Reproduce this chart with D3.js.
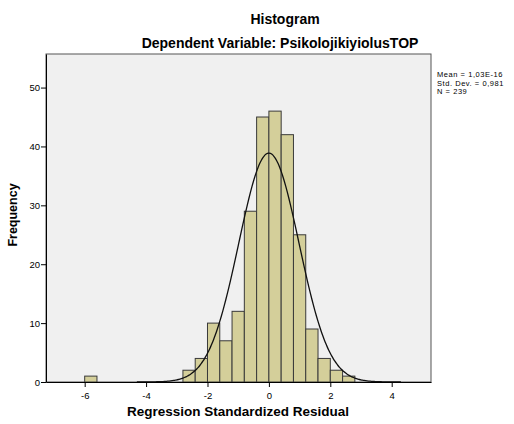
<!DOCTYPE html>
<html>
<head>
<meta charset="utf-8">
<script src="https://cdn.jsdelivr.net/npm/d3@7"></script>
<style>
  body { margin: 0; background: #fff; }
  text { font-family: "Liberation Sans", Arial, sans-serif; }
</style>
</head>
<body>
<svg id="chart" width="514" height="424"></svg>
<script>
// Bin lower edges (width 0.4) and their counts
const binStarts = [-6.0, -2.8, -2.4, -2.0, -1.6, -1.2, -0.8, -0.4, 0.0, 0.4, 0.8, 1.2, 1.6, 2.0, 2.4];
const counts    = [1, 2, 4, 10, 7, 12, 29, 45, 46, 42, 25, 9, 4, 2, 1];
const binWidth = 0.4;
const xTicks = [-6, -4, -2, 0, 2, 4];
const yTicks = [0, 10, 20, 30, 40, 50];
const statsLines = ["Mean = 1,03E-16", "Std. Dev. = 0,981", "N = 239"];
const mean = 0, sd = 0.981, n = 239;

const svg = d3.select("#chart");
const box = { left: 46, right: 431, top: 54, bottom: 382 };

const x = d3.scaleLinear().domain([-7.26, 5.28]).range([box.left, box.right]);
const y = d3.scaleLinear().domain([0, 55.7]).range([box.bottom, box.top]);

// plot background
svg.append("rect")
  .attr("x", box.left).attr("y", box.top)
  .attr("width", box.right - box.left).attr("height", box.bottom - box.top)
  .attr("fill", "#f0f0f0").attr("stroke", "#555").attr("stroke-width", 1);

// bars
const bins = binStarts.map((s, i) => ({ x0: s, x1: s + binWidth, count: counts[i] }));
svg.append("g").selectAll("rect")
  .data(bins)
  .join("rect")
  .attr("x", d => x(d.x0))
  .attr("y", d => y(d.count))
  .attr("width", d => x(d.x1) - x(d.x0))
  .attr("height", d => y(0) - y(d.count))
  .attr("fill", "#d4cf9a")
  .attr("stroke", "#3a3a3a")
  .attr("stroke-width", 1);

// normal curve from the stated mean / sd / N
const pts = d3.range(-4.3, 4.31, 0.05).map(v => ({
  v: v,
  f: n * binWidth * Math.exp(-0.5 * ((v - mean) / sd) ** 2) / (sd * Math.sqrt(2 * Math.PI))
}));
svg.append("path")
  .datum(pts)
  .attr("fill", "none")
  .attr("stroke", "#111")
  .attr("stroke-width", 1.3)
  .attr("d", d3.line().x(d => x(d.v)).y(d => y(d.f)).curve(d3.curveBasis));

// axes
const xAxis = svg.append("g")
  .attr("transform", `translate(0,${box.bottom})`)
  .call(d3.axisBottom(x).tickValues(xTicks).tickSize(5).tickSizeOuter(0).tickFormat(d3.format("d")));
const yAxis = svg.append("g")
  .attr("transform", `translate(${box.left},0)`)
  .call(d3.axisLeft(y).tickValues(yTicks).tickSize(5).tickSizeOuter(0));
[xAxis, yAxis].forEach(a => {
  a.select(".domain").attr("stroke", "#000");
  a.selectAll(".tick line").attr("stroke", "#000");
  a.selectAll(".tick text").attr("font-family", "Liberation Sans, Arial, sans-serif")
    .attr("font-size", 9.5).attr("fill", "#000");
});
xAxis.selectAll(".tick text").attr("dy", "0.9em").text(d => d < 0 ? "-" + Math.abs(d) : d);
yAxis.selectAll(".tick text").attr("x", -6);

// titles
svg.append("text").attr("x", 285).attr("y", 24).attr("text-anchor", "middle")
  .attr("font-size", 14).attr("font-weight", "bold").text("Histogram");
svg.append("text").attr("x", 280).attr("y", 48).attr("text-anchor", "middle")
  .attr("font-size", 14).attr("font-weight", "bold").text("Dependent Variable: PsikolojikiyiolusTOP");
svg.append("text").attr("x", 238).attr("y", 416).attr("text-anchor", "middle")
  .attr("font-size", 13.5).attr("font-weight", "bold").text("Regression Standardized Residual");
svg.append("text").attr("transform", "translate(17,215) rotate(-90)").attr("text-anchor", "middle")
  .attr("font-size", 12.5).attr("font-weight", "bold").text("Frequency");

// stats box
svg.append("g").selectAll("text")
  .data(statsLines)
  .join("text")
  .attr("x", 437)
  .attr("y", (d, i) => 77 + i * 8.5)
  .attr("font-size", 7.5)
  .attr("letter-spacing", 0.55)
  .attr("fill", "#000")
  .text(d => d);
</script>
</body>
</html>
